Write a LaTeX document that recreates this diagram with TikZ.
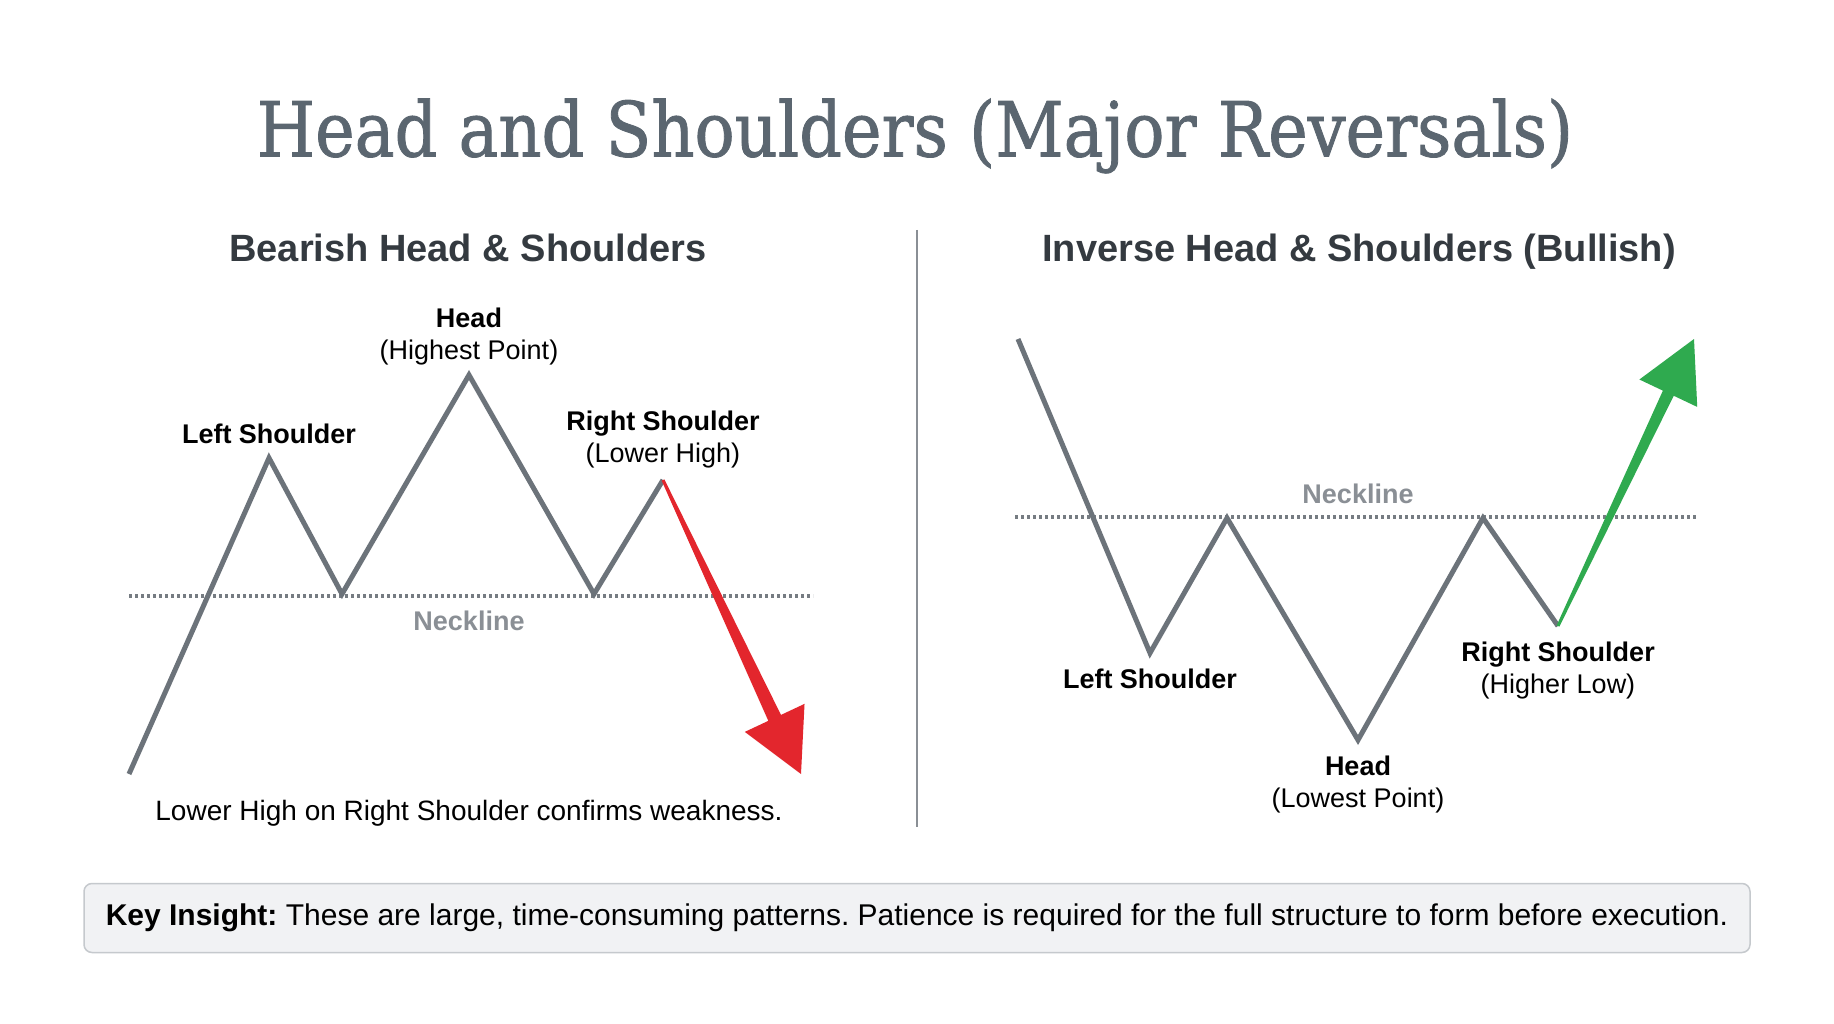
\documentclass[tikz,border=0pt]{standalone}
\usepackage{fontspec}
\usepackage{graphicx}
\setmainfont{Liberation Sans}
\newfontfamily\slabfont[FakeBold=1.2]{DejaVu Serif}
\usepackage{tikz}
\usetikzlibrary{positioning, calc}
\frenchspacing
\definecolor{titlegray}{HTML}{5B6670}
\definecolor{headgray}{HTML}{343A40}
\definecolor{linegray}{HTML}{6C737A}
\definecolor{dotgray}{HTML}{767C82}
\definecolor{neckgray}{HTML}{8A8F95}
\definecolor{bearred}{HTML}{E3262D}
\definecolor{bullgreen}{HTML}{2FAA4F}
\definecolor{boxfill}{HTML}{F1F2F4}
\definecolor{boxedge}{HTML}{C5C9CD}
\tikzstyle{maintitle} = [font=\slabfont\fontsize{76}{80}\selectfont, text=titlegray, inner sep=0pt]
\tikzstyle{paneltitle} = [font=\fontsize{38}{42}\selectfont\bfseries, text=headgray,
    inner sep=0pt, text height=27.5pt, text depth=0pt]
\tikzstyle{ptlabel} = [font=\fontsize{27}{32}\selectfont, align=center, inner sep=0pt]
\tikzstyle{necklabel} = [font=\fontsize{27}{32}\selectfont\bfseries, text=neckgray, inner sep=0pt]
\tikzstyle{chartline} = [line width=5pt, draw=linegray, line join=miter]
\tikzstyle{neckline} = [line width=3.5pt, draw=dotgray, dash pattern=on 3pt off 3pt]
\tikzstyle{divider} = [line width=2pt, draw=neckgray]
\tikzstyle{keybox} = [rectangle, rounded corners=8pt, draw=boxedge, fill=boxfill,
    line width=1.5pt, minimum width=1666pt, minimum height=69pt,
    font=\fontsize{30}{34}\selectfont]

\begin{document}
\begin{tikzpicture}[x=1pt, y=-1pt]
  \useasboundingbox (0,0) rectangle (1834,1024);
  \fill[white] (0,0) rectangle (1834,1024);

  \node[maintitle](title) at (915,136){\scalebox{0.88}[1]{Head and Shoulders (Major Reversals)}};
  \node[paneltitle](bearT) at (468,248){Bearish Head \& Shoulders};
  \node[paneltitle](bullT) at (1359,248){Inverse Head \& Shoulders (Bullish)};

  % divider
  \coordinate (divTop) at (917,230);
  \coordinate (divBot) at (917,827);
  \draw[divider](divTop)--(divBot);

  % bearish pattern
  \coordinate (b0) at (129,774);
  \coordinate (bLS) at (269,458);
  \coordinate (bT1) at (342,594);
  \coordinate (bHd) at (469,375);
  \coordinate (bT2) at (594,594);
  \coordinate (bRS) at (663,480);
  \coordinate (bTip) at (801,774);
  \coordinate (bNeckL) at (129,596);
  \coordinate (bNeckR) at (813,596);

  \draw[neckline](bNeckL)--(bNeckR);
  \draw[chartline](b0)--(bLS)--(bT1)--(bHd)--(bT2)--(bRS);
  \coordinate (bBase) at ($(bTip)!62pt!(bRS)$);
  \fill[bearred]($(bRS)!1.5pt!90:(bTip)$)--($(bBase)!7pt!90:(bTip)$)
    --($(bBase)!33pt!90:(bTip)$)--(bTip)--($(bBase)!33pt!-90:(bTip)$)
    --($(bBase)!7pt!-90:(bTip)$)--($(bRS)!1.5pt!-90:(bTip)$)--cycle;

  \node[ptlabel, above=14pt of bLS](bLSlab){\textbf{Left Shoulder}};
  \node[ptlabel, above=10pt of bHd](bHdlab){\textbf{Head}\\(Highest Point)};
  \node[ptlabel, above=12pt of bRS](bRSlab){\textbf{Right Shoulder}\\(Lower High)};
  \node[necklabel](bNeck) at (469,621){Neckline};
  \node[ptlabel, font=\fontsize{28}{32}\selectfont](bNote) at (469,813){Lower High on Right Shoulder confirms weakness.};

  % inverse pattern
  \coordinate (u0) at (1018,339);
  \coordinate (uLS) at (1150,653);
  \coordinate (uP1) at (1227,518);
  \coordinate (uHd) at (1358,740);
  \coordinate (uP2) at (1483,518);
  \coordinate (uRS) at (1558,626);
  \coordinate (uTip) at (1694,339);
  \coordinate (uNeckL) at (1015,517);
  \coordinate (uNeckR) at (1698,517);

  \draw[neckline](uNeckL)--(uNeckR);
  \draw[chartline](u0)--(uLS)--(uP1)--(uHd)--(uP2)--(uRS);
  \coordinate (uBase) at ($(uTip)!60pt!(uRS)$);
  \fill[bullgreen]($(uRS)!1.5pt!90:(uTip)$)--($(uBase)!6pt!90:(uTip)$)
    --($(uBase)!32pt!90:(uTip)$)--(uTip)--($(uBase)!32pt!-90:(uTip)$)
    --($(uBase)!6pt!-90:(uTip)$)--($(uRS)!1.5pt!-90:(uTip)$)--cycle;

  \node[ptlabel, below=16pt of uLS](uLSlab){\textbf{Left Shoulder}};
  \node[ptlabel, below=16pt of uHd](uHdlab){\textbf{Head}\\(Lowest Point)};
  \node[ptlabel, below=16pt of uRS](uRSlab){\textbf{Right Shoulder}\\(Higher Low)};
  \node[necklabel](uNeck) at (1358,494){Neckline};

  % key insight
  \node[keybox](key) at (917,918){\textbf{Key Insight:} These are large, time-consuming patterns. Patience is required for the full structure to form before execution.};
\end{tikzpicture}
\end{document}
